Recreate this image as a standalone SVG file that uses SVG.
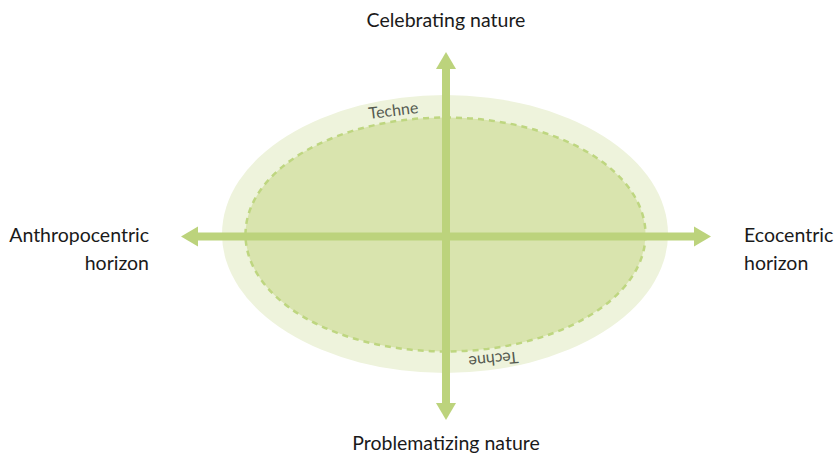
<svg xmlns="http://www.w3.org/2000/svg" width="837" height="453" viewBox="0 0 837 453">
  <style>
    .label { font-family: Lato, "Liberation Sans", sans-serif; font-size: 19.5px; fill: #1a1a1a; }
    .ring { font-family: Lato, "Liberation Sans", sans-serif; font-size: 16px; fill: #555a50; }
    .axis { fill: #bcd37c; }
  </style>
  <rect width="837" height="453" fill="#ffffff"/>

  <g id="techne-outer">
    <ellipse cx="445" cy="234" rx="223" ry="139" fill="#eef3dc"/>
  </g>
  <g id="techne-inner">
    <ellipse cx="445.5" cy="234.5" rx="200" ry="117" fill="#d9e4ae" stroke="#bed680" stroke-width="2.5" stroke-dasharray="6 5"/>
  </g>
  <g id="techne-labels">
    <text class="ring" text-anchor="middle" transform="translate(394 116) rotate(-7)">Techne</text>
    <text class="ring" text-anchor="middle" transform="translate(493 354) rotate(174)">Techne</text>
  </g>

  <g id="connectors">
    <!-- horizontal axis -->
    <rect class="axis" x="196" y="232.5" width="500" height="8"/>
    <polygon class="axis" points="181,236.5 198,226.5 198,246.5"/>
    <polygon class="axis" points="711,236.5 694,226.5 694,246.5"/>
    <!-- vertical axis -->
    <rect class="axis" x="442" y="67" width="8" height="338"/>
    <polygon class="axis" points="446,52 436,69 456,69"/>
    <polygon class="axis" points="446,420 436,403 456,403"/>
  </g>

  <g id="celebrating">
    <text class="label" x="446" y="27" text-anchor="middle">Celebrating nature</text>
  </g>
  <g id="problematizing">
    <text class="label" x="446" y="450" text-anchor="middle">Problematizing nature</text>
  </g>
  <g id="anthropocentric">
    <text class="label" x="149" y="242" text-anchor="end">Anthropocentric</text>
    <text class="label" x="149" y="270" text-anchor="end">horizon</text>
  </g>
  <g id="ecocentric">
    <text class="label" x="744" y="242">Ecocentric</text>
    <text class="label" x="744" y="270">horizon</text>
  </g>
</svg>
